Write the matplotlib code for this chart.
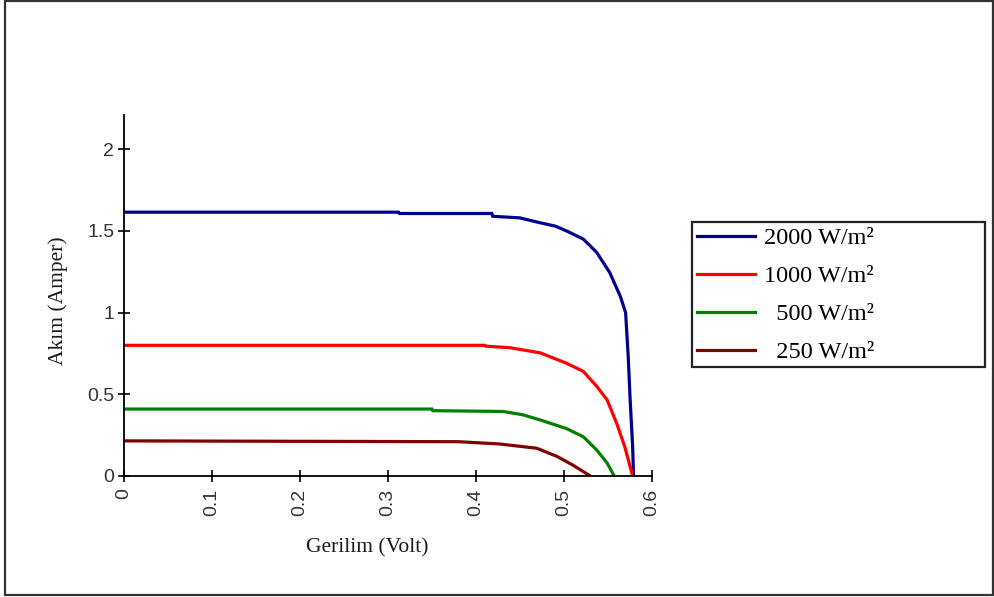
import matplotlib
matplotlib.use("Agg")
import matplotlib.pyplot as plt
from matplotlib.patches import Rectangle

# ---- data ----
v_2000 = [0.0, 0.312, 0.313, 0.418, 0.419, 0.45, 0.473, 0.49, 0.503, 0.522, 0.537, 0.552, 0.564, 0.570, 0.573, 0.575, 0.578, 0.579]
i_2000 = [1.615, 1.615, 1.607, 1.607, 1.59, 1.58, 1.55, 1.53, 1.50, 1.45, 1.37, 1.245, 1.10, 1.0, 0.73, 0.485, 0.18, 0.0]

v_1000 = [0.0, 0.410, 0.411, 0.439, 0.473, 0.503, 0.522, 0.537, 0.549, 0.560, 0.569, 0.578]
i_1000 = [0.80, 0.80, 0.795, 0.785, 0.754, 0.69, 0.64, 0.55, 0.466, 0.32, 0.18, 0.0]

v_500 = [0.0, 0.350, 0.351, 0.431, 0.453, 0.473, 0.503, 0.522, 0.537, 0.549, 0.557]
i_500 = [0.41, 0.41, 0.40, 0.395, 0.375, 0.343, 0.29, 0.24, 0.16, 0.08, 0.0]

v_250 = [0.0, 0.38, 0.427, 0.469, 0.492, 0.51, 0.53]
i_250 = [0.215, 0.21, 0.196, 0.17, 0.12, 0.067, 0.0]

labels = ["2000 W/m\u00b2", "1000 W/m\u00b2", "  500 W/m\u00b2", "  250 W/m\u00b2"]
colors = ["#000090", "#ff0000", "#008000", "#800000"]

x_ticks = [0, 0.1, 0.2, 0.3, 0.4, 0.5, 0.6]
x_tick_labels = ["0", "0.1", "0.2", "0.3", "0.4", "0.5", "0.6"]
y_ticks = [0, 0.5, 1, 1.5, 2]
y_tick_labels = ["0", "0.5", "1", "1.5", "2"]

W, H = 995, 597
fig = plt.figure(figsize=(W / 100, H / 100), dpi=100)
fig.patch.set_facecolor("white")

ax_l, ax_r, ax_b, ax_t = 124, 652, 476, 115
ax = fig.add_axes([ax_l / W, 1 - ax_b / H, (ax_r - ax_l) / W, (ax_b - ax_t) / H])

series = [(v_2000, i_2000), (v_1000, i_1000), (v_500, i_500), (v_250, i_250)]
handles = []
for (v, i), c, lab in zip(series, colors, labels):
    h, = ax.plot(v, i, color=c, lw=2.3, label=lab, solid_joinstyle="miter")
    handles.append(h)

ax.set_xlim(0, 0.6)
ax.set_ylim(0, 2.21)
for s in ["top", "right"]:
    ax.spines[s].set_visible(False)
for s in ["left", "bottom"]:
    ax.spines[s].set_linewidth(1.3)
    ax.spines[s].set_color("black")

ax.set_xticks(x_ticks)
ax.set_xticklabels(x_tick_labels, rotation=90, family="Liberation Sans", fontsize=14)
ax.set_yticks(y_ticks)
ax.set_yticklabels(y_tick_labels, family="Liberation Sans", fontsize=14)
ax.tick_params(axis="both", direction="inout", length=8, width=1.2, colors="black")
ax.tick_params(axis="x", pad=5)
ax.tick_params(axis="y", pad=3)
for lbl in ax.get_xticklabels() + ax.get_yticklabels():
    lbl.set_color("#333333")

ax.set_xlabel("Gerilim (Volt)", family="Liberation Serif", fontsize=15.5, color="#1a1a1a")
ax.set_ylabel("Akım (Amper)", family="Liberation Serif", fontsize=15.5, color="#1a1a1a")
ax.xaxis.set_label_coords((367 - ax_l) / (ax_r - ax_l), -(548 - ax_b) / (ax_b - ax_t), transform=ax.transAxes)
ax.yaxis.set_label_coords((58 - ax_l) / (ax_r - ax_l), (ax_b - 301) / (ax_b - ax_t), transform=ax.transAxes)
ax.xaxis.label.set_va("center")
ax.yaxis.label.set_va("center")

# legend (frame drawn separately)
leg = fig.legend(handles=handles, labels=labels, loc="upper left",
                 bbox_to_anchor=(697 / W, 1 - 227 / H), frameon=False,
                 prop={"family": "Liberation Serif", "size": 17.5},
                 handlelength=2.4, handletextpad=0.35, labelspacing=0.66,
                 borderaxespad=0, borderpad=0)
fig.patches.append(Rectangle((692 / W, 1 - 367 / H), (985 - 692) / W, (367 - 222) / H,
                             transform=fig.transFigure, fill=False, lw=1.6,
                             edgecolor="#222222", zorder=5))

# outer figure border
fig.patches.append(Rectangle((5 / W, 2 / H), (993 - 5) / W, (596 - 2) / H,
                             transform=fig.transFigure, fill=False, lw=1.6,
                             edgecolor="#333333", zorder=5))

fig.savefig("out.png", dpi=100, facecolor="white")
